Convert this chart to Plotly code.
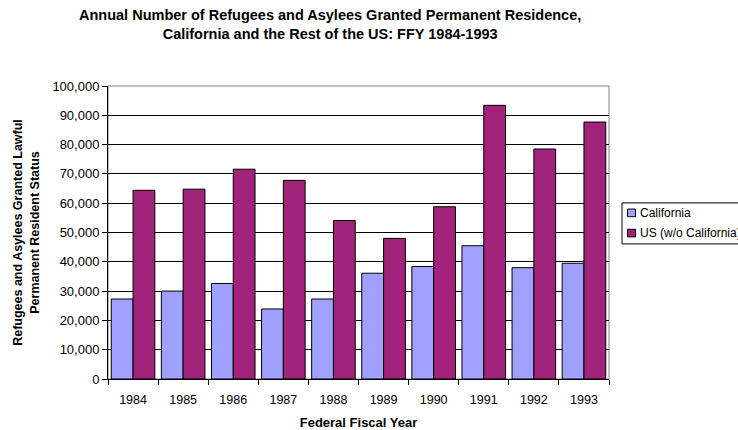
import plotly.graph_objects as go

years = ["1984", "1985", "1986", "1987", "1988", "1989", "1990", "1991", "1992", "1993"]
california = [27300, 30000, 32600, 23900, 27300, 36100, 38400, 45500, 38000, 39500]
us_wo_ca = [64400, 64800, 71600, 67800, 54100, 48000, 58800, 93400, 78500, 87700]
series_names = ["California", "US (w/o California)"]
colors = ["#A0A0FF", "#A2237A"]

font = "Liberation Sans, Arial, sans-serif"

fig = go.Figure()
for name, vals, col in zip(series_names, [california, us_wo_ca], colors):
    fig.add_trace(go.Bar(x=years, y=vals, name=name, showlegend=False,
                         marker=dict(color=col, line=dict(color="#000000", width=1))))

fig.update_layout(
    width=738, height=430,
    margin=dict(l=108, r=129, t=86, b=51),
    paper_bgcolor="white", plot_bgcolor="white",
    font=dict(family=font, size=12, color="black"),
    barmode="group", bargap=0.13, bargroupgap=0,
    showlegend=False,
)
fig.update_xaxes(
    type="category", tickson="boundaries", ticks="outside", ticklen=5,
    tickcolor="black", showline=True, linecolor="black", linewidth=1,
    showgrid=False, automargin=False, ticklabelstandoff=9,
    title=dict(text="<b>Federal Fiscal Year</b>", font=dict(family=font, size=13), standoff=12),
    tickfont=dict(family=font, size=12.5),
)
fig.update_yaxes(
    range=[0, 100000], dtick=10000, tickformat=",", ticks="outside", ticklen=5,
    tickcolor="black", showline=True, linecolor="black", linewidth=1,
    showgrid=True, gridcolor="#000000", gridwidth=1, zeroline=False, automargin=False,
    title=dict(text="<b>Refugees and Asylees Granted Lawful<br>Permanent Resident Status</b>",
               font=dict(family=font, size=12.5), standoff=10),
    tickfont=dict(family=font, size=13),
)
# gray frame on top/right of plot area
fig.add_shape(type="rect", xref="paper", yref="paper", x0=0, y0=0, x1=1, y1=1,
              line=dict(color="#808080", width=1), layer="below")

# Title
fig.add_annotation(
    text="<b>Annual Number of Refugees and Asylees Granted Permanent Residence,<br>California and the Rest of the US: FFY 1984-1993</b>",
    xref="paper", yref="paper", x=0.443, y=1.275, xanchor="center", yanchor="top",
    showarrow=False, font=dict(family=font, size=14.5, color="black"))

# Legend (Excel style box, clipped at right edge like the original)
fig.add_shape(type="rect", xref="paper", yref="paper", x0=1.026, x1=1.30, y0=0.461, y1=0.601,
              line=dict(color="black", width=1), fillcolor="white")
leg_y = [0.567, 0.498]
for name, col, yy in zip(series_names, colors, leg_y):
    fig.add_shape(type="rect", xref="paper", yref="paper",
                  x0=1.037, x1=1.053, y0=yy - 0.013, y1=yy + 0.013,
                  line=dict(color="black", width=1), fillcolor=col)
    fig.add_annotation(text=name, xref="paper", yref="paper", x=1.058, y=yy,
                       xanchor="left", yanchor="middle", showarrow=False,
                       font=dict(family=font, size=12, color="black"))

fig.write_html("out.html")
